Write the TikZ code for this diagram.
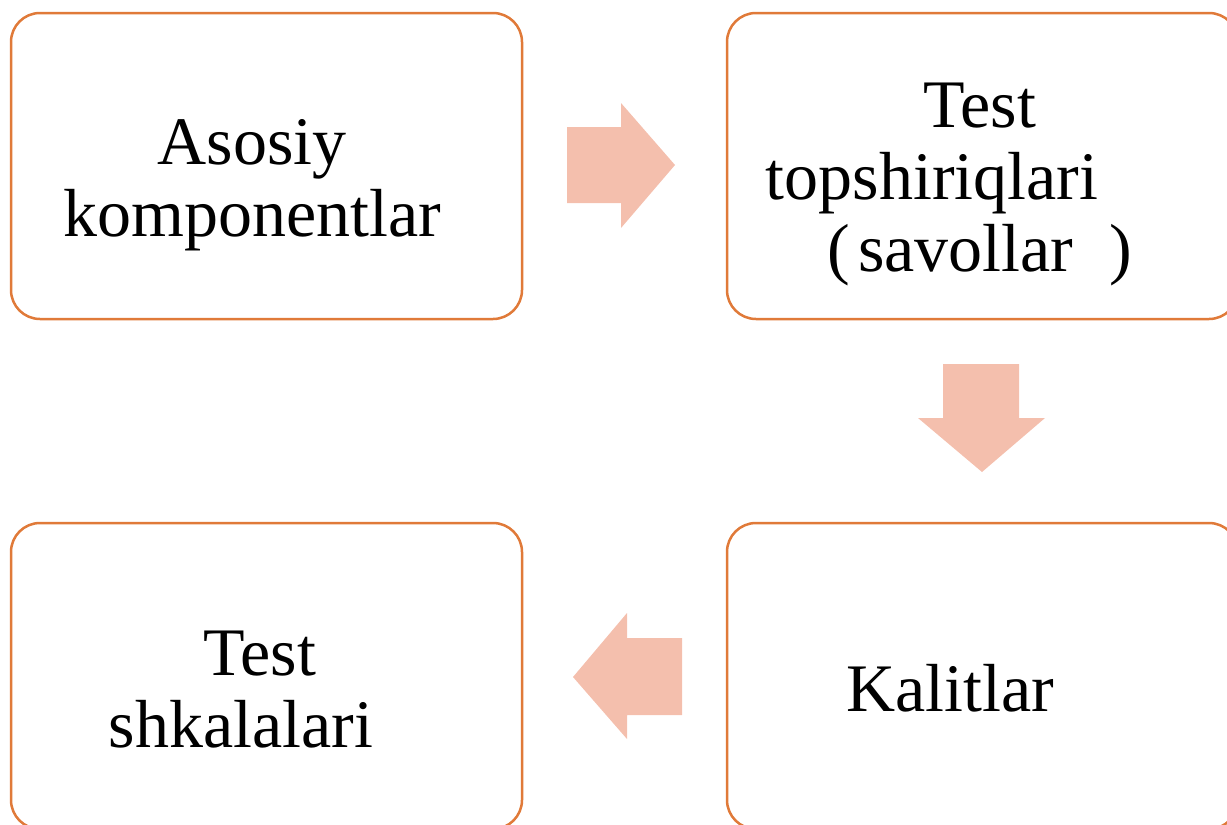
\documentclass[tikz,border=0pt]{standalone}
\usepackage{fontspec}
\setmainfont{Liberation Serif}
\definecolor{boxline}{RGB}{224,122,57}
\definecolor{arrowfill}{RGB}{244,191,173}
\begin{document}
\begin{tikzpicture}[x=0.5pt,y=-0.5pt,
  box/.style={draw=boxline, line width=1.25pt, rounded corners=14.5pt,
    minimum width=255.5pt, minimum height=153pt, inner sep=0pt},
  boxtext/.style={font=\fontsize{34pt}{36pt}\selectfont, align=center,
    inner sep=0pt, text=black},
  blockarrow/.style={fill=arrowfill, draw=none}]
\useasboundingbox (0,0) rectangle (1227,825);
% boxes
\node[box] (b1) at (266.5,166) {};
\node[box] (b2) at (982.5,166) {};
\node[box] (b3) at (982.5,676) {};
\node[box] (b4) at (266.5,676) {};
% texts
\node[boxtext] (t1) at (252,185.5) {Asosiy\\komponentlar};
\node[boxtext] (t2) at (980,184.5) {Test\\topshiriqlari\hspace*{48pt}\mbox{}\\(\hspace{4pt}savollar\hspace{18pt})};
\node[boxtext] (t3) at (950,688.5) {Kalitlar};
\node[boxtext] (t4) at (260,689.5) {Test\\shkalalari\hspace*{19pt}\mbox{}};
% block arrows
\fill[blockarrow] (567,127) -- (621,127) -- (621,103) -- (675,165) -- (621,228) -- (621,203) -- (567,203) -- cycle;
\fill[blockarrow] (943,364) -- (1019,364) -- (1019,418) -- (1045,418) -- (982,472) -- (918,418) -- (943,418) -- cycle;
\fill[blockarrow] (682,638) -- (627,638) -- (627,613) -- (573,677) -- (627,739) -- (627,715) -- (682,715) -- cycle;
\end{tikzpicture}
\end{document}
